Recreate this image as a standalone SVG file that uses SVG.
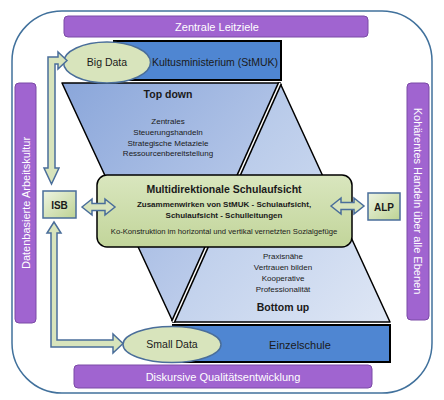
<svg xmlns="http://www.w3.org/2000/svg" width="444" height="400" viewBox="0 0 444 400">
<defs>
<linearGradient id="gTop" x1="0" y1="0" x2="1" y2="1">
<stop offset="0" stop-color="#8aa6da"/><stop offset="1" stop-color="#cdd9f0"/>
</linearGradient>
<linearGradient id="gBot" x1="0" y1="0" x2="1" y2="1">
<stop offset="0" stop-color="#a9bfe5"/><stop offset="1" stop-color="#dfe7f5"/>
</linearGradient>
<linearGradient id="gGreen" x1="0" y1="0" x2="0" y2="1">
<stop offset="0" stop-color="#d9e6be"/><stop offset="1" stop-color="#c2d59a"/>
</linearGradient>
<linearGradient id="gSmall" x1="0" y1="0" x2="1" y2="1">
<stop offset="0" stop-color="#eef4e2"/><stop offset="1" stop-color="#bdd293"/>
</linearGradient>
<style>
.bar{fill:#a064d0;stroke:#7b4aa6;stroke-width:1}
.barT{font-family:"Liberation Sans",Arial,sans-serif;font-size:11px;fill:#ffffff;text-anchor:middle}
.blue{fill:#4f86d2;stroke:#000;stroke-width:2}
.ell{fill:#d8e4bc;stroke:#4a6e9a;stroke-width:1.5}
.arr{fill:#d8e4bc;stroke:#4a6e9a;stroke-width:1.5;stroke-linejoin:miter}
.t{font-family:"Liberation Sans",Arial,sans-serif;fill:#1a1a1a;text-anchor:middle}
.s8{font-size:8px}
.b{font-weight:bold}
</style>
</defs>
<g id="frame">
<rect x="12" y="11" width="420" height="382" rx="50" fill="#fff" stroke="#41719c" stroke-width="1.5"/>
</g>
<g id="zentrale-leitziele">
<rect class="bar" x="64" y="16" width="304" height="21" rx="4"/>
<text class="barT" x="217" y="31">Zentrale Leitziele</text>
</g>
<g id="diskursive">
<rect class="bar" x="74" y="365" width="298" height="23" rx="4"/>
<text class="barT" x="223" y="381">Diskursive Qualitätsentwicklung</text>
</g>
<g id="datenbasierte">
<rect class="bar" x="15" y="83" width="21" height="240" rx="4"/>
<text class="barT" transform="translate(29.5,203) rotate(-90)" x="0" y="0">Datenbasierte Arbeitskultur</text>
</g>
<g id="kohaerentes">
<rect class="bar" x="407" y="83" width="22" height="237" rx="4"/>
<text class="barT" transform="translate(414,201) rotate(90)" x="0" y="0">Kohärentes Handeln über alle Ebenen</text>
</g>
<g id="top-down">
<polygon points="62,83 280,83 173,322" fill="url(#gTop)" stroke="#000" stroke-width="1.5" stroke-linejoin="round"/>
<text class="t b" x="168" y="98" font-size="10.5">Top down</text>
<text class="t s8" x="168" y="124">Zentrales</text>
<text class="t s8" x="168" y="135">Steuerungshandeln</text>
<text class="t s8" x="168" y="146">Strategische Metaziele</text>
<text class="t s8" x="168" y="156">Ressourcenbereitstellung</text>
</g>
<g id="bottom-up">
<polygon points="280,83 390,322 173,322" fill="url(#gBot)" stroke="#000" stroke-width="1.5" stroke-linejoin="round"/>
<line x1="280" y1="83" x2="173" y2="322" stroke="#000" stroke-width="4.5"/>
<line x1="280" y1="83" x2="173" y2="322" stroke="#fff" stroke-width="1.5"/>
<text class="t s8" x="283" y="259">Praxisnähe</text>
<text class="t s8" x="283" y="270">Vertrauen bilden</text>
<text class="t s8" x="283" y="281">Kooperative</text>
<text class="t s8" x="283" y="292">Professionalität</text>
<text class="t b" x="283" y="311" font-size="10.5">Bottom up</text>
</g>
<g id="kultusministerium">
<rect class="blue" x="114" y="41" width="167" height="39"/>
<text class="t" x="215" y="66" font-size="10.5">Kultusministerium (StMUK)</text>
</g>
<g id="einzelschule">
<rect class="blue" x="173" y="325" width="217" height="37"/>
<text class="t" x="300" y="349" font-size="11">Einzelschule</text>
</g>
<g id="big-data">
<ellipse class="ell" cx="107" cy="62.5" rx="43.5" ry="20.5"/>
<text class="t" x="107" y="66" font-size="10.5">Big Data</text>
</g>
<g id="small-data">
<ellipse class="ell" cx="172" cy="344.5" rx="49" ry="18"/>
<text class="t" x="172" y="348" font-size="10.5">Small Data</text>
</g>
<g id="schulaufsicht">
<rect x="97" y="175" width="255" height="72" rx="10" fill="url(#gGreen)" stroke="#000" stroke-width="1.5"/>
<text class="t b" x="224" y="193" font-size="10.5">Multidirektionale Schulaufsicht</text>
<text class="t b" x="224" y="207" font-size="8">Zusammenwirken von StMUK - Schulaufsicht,</text>
<text class="t b" x="224" y="218" font-size="8">Schulaufsicht - Schulleitungen</text>
<text class="t" x="224" y="234" font-size="7.7" fill="#333">Ko-Konstruktion im horizontal und vertikal vernetzten Sozialgefüge</text>
</g>
<g id="connectors">
<path class="arr" d="M82,207 L92,199 L92,203.5 L105,203.5 L105,199 L115,207 L105,215 L105,210.5 L92,210.5 L92,215 Z"/>
<path class="arr" d="M331,206 L341,198 L341,202.5 L354,202.5 L354,198 L364,206 L354,214 L354,209.5 L341,209.5 L341,214 Z"/>
<path class="arr" d="M67,60.5 L58,52 L58,57 L48,57 L48,168 L44,168 L51.5,184 L59,168 L55,168 L55,64 L58,64 L58,69 Z"/>
<path class="arr" d="M54,222 L47,233 L51,233 L51,347 L113,347 L113,353 L123,343.5 L113,334 L113,340 L57,340 L57,233 L61,233 Z"/>
</g>
<g id="isb">
<rect x="43" y="191" width="33" height="27" fill="url(#gSmall)" stroke="#4a6e9a" stroke-width="1.5"/>
<text class="t b" x="59.5" y="208.5" font-size="10">ISB</text>
</g>
<g id="alp">
<rect x="368" y="193" width="32" height="27" fill="url(#gSmall)" stroke="#4a6e9a" stroke-width="1.5"/>
<text class="t b" x="384" y="210.5" font-size="10">ALP</text>
</g>
</svg>
